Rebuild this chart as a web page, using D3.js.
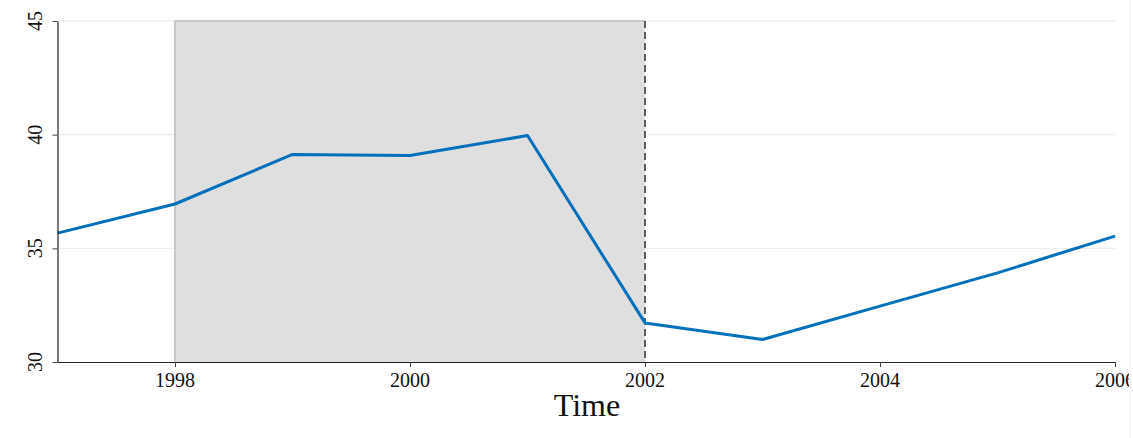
<!DOCTYPE html>
<html><head><meta charset="utf-8">
<script src="https://cdn.jsdelivr.net/npm/d3@7"></script>
<style>body{margin:0;background:#fff}svg{display:block}</style>
</head><body>
<script>
const years = [1997,1998,1999,2000,2001,2002,2003,2004,2005,2006];
const values = [35.67,36.95,39.13,39.08,39.96,31.72,30.99,32.46,33.92,35.54];
const xTicks = [1998,2000,2002,2004,2006];
const yTicks = [30,35,40,45];
const shadeRange = [1998,2002];
const cutYear = 2002;

const W=1133,H=438;
const m={l:57.5,r:1115,t:21,b:362};
const svg=d3.select("body").append("svg").attr("width",W).attr("height",H);
svg.append("defs").append("clipPath").attr("id","clip").append("rect").attr("x",0).attr("y",0).attr("width",1129).attr("height",H);
const g=svg.append("g").attr("clip-path","url(#clip)");
const x=d3.scaleLinear().domain([1997,2006]).range([m.l,m.r]);
const y=d3.scaleLinear().domain([30,45]).range([m.b,m.t]);
const font="'Liberation Serif','DejaVu Serif',serif";

g.append("g").selectAll("line").data(yTicks.slice(1)).join("line")
 .attr("x1",m.l).attr("x2",m.r).attr("y1",d=>y(d)).attr("y2",d=>y(d))
 .attr("stroke","#e6ebeb").attr("stroke-width",1);
g.append("rect").attr("x",x(shadeRange[0])).attr("y",y(45)).attr("width",x(shadeRange[1])-x(shadeRange[0])).attr("height",y(30)-y(45))
 .attr("fill","#dfdfdf");
g.append("path").attr("d",`M${x(shadeRange[0])},${y(30)}V${y(45)}H${x(shadeRange[1])}`).attr("fill","none").attr("stroke","#bdbdbd").attr("stroke-width",1.5);
g.append("line").attr("x1",x(cutYear)).attr("x2",x(cutYear)).attr("y1",y(45)).attr("y2",y(30))
 .attr("stroke","#505050").attr("stroke-width",1.8).attr("stroke-dasharray","7,4");
g.append("path").datum(years.map((d,i)=>[d,values[i]]))
 .attr("d",d3.line().x(d=>x(d[0])).y(d=>y(d[1])))
 .attr("fill","none").attr("stroke","#0070bb").attr("stroke-width",3).attr("stroke-linejoin","round");
const xa=g.append("g").attr("transform",`translate(0,${m.b})`).call(d3.axisBottom(x).tickValues(xTicks).tickFormat(()=>"").tickSize(5).tickSizeOuter(0));
xa.select(".domain").attr("stroke","#222").attr("stroke-width",1.2);
xa.selectAll(".tick line").attr("stroke","#444");
const ya=g.append("g").attr("transform",`translate(${m.l},0)`).call(d3.axisLeft(y).tickValues(yTicks).tickFormat(()=>"").tickSize(5).tickSizeOuter(0));
ya.select(".domain").attr("stroke","#222").attr("stroke-width",1.2);
ya.selectAll(".tick line").attr("stroke","#444");
g.append("g").selectAll("text").data(xTicks).join("text")
 .attr("x",d=>x(d)).attr("y",m.b+25).attr("text-anchor","middle")
 .attr("font-family",font).attr("font-size",20).attr("fill","#111").text(d=>d);
g.append("g").selectAll("text").data(yTicks).join("text")
 .attr("transform",d=>`translate(35,${y(d)}) rotate(-90)`).attr("dy","0.35em").attr("text-anchor","middle")
 .attr("font-family",font).attr("font-size",20).attr("fill","#111").text(d=>d);
g.append("text").attr("x",587).attr("y",416).attr("text-anchor","middle").attr("font-family",font).attr("font-size",32).attr("fill","#111").text("Time");
svg.append("line").attr("x1",1130.5).attr("x2",1130.5).attr("y1",0).attr("y2",H).attr("stroke","#eef3f3").attr("stroke-width",1.5);
</script>
</body></html>
